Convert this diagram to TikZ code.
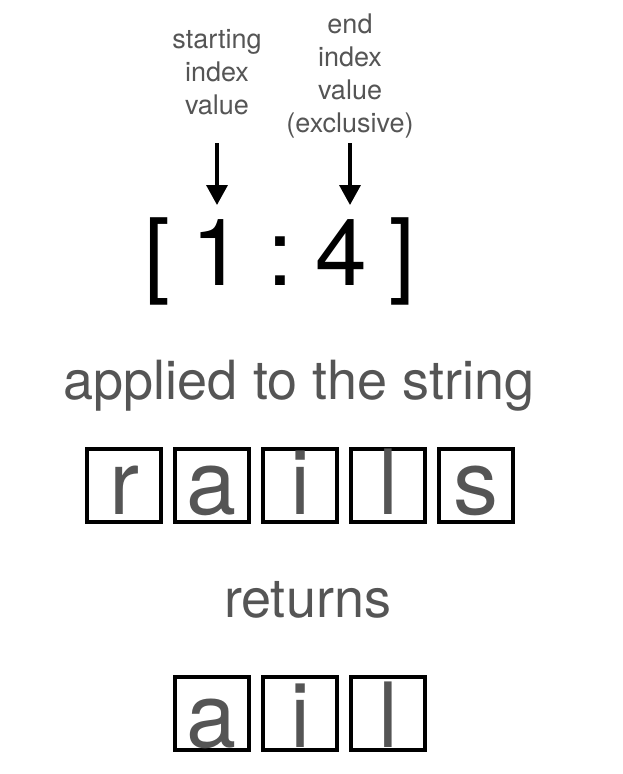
\documentclass[tikz,border=0pt]{standalone}
\usepackage{fontspec}
\setmainfont{TeX Gyre Heros}
\usepackage{xcolor}
\usepackage{tikz}
\usetikzlibrary{arrows.meta}
\definecolor{txtgray}{HTML}{555555}

\begin{document}
\begin{tikzpicture}[x=1pt,y=-1pt,>={Triangle[width=21pt,length=20pt]},node distance=88pt,
    note/.style={text=txtgray,align=center,inner sep=0pt,anchor=base,font=\fontsize{27}{33}\selectfont},
    slice/.style={inner sep=0pt,anchor=base,font=\fontsize{93}{93}\selectfont},
    phrase/.style={text=txtgray,inner sep=0pt,anchor=base,font=\fontsize{54}{54}\selectfont},
    charbox/.style={draw,line width=4pt,minimum width=74pt,minimum height=73pt,inner sep=0pt,text=txtgray,font=\fontsize{90}{90}\selectfont,text height=62pt,text depth=5pt},
    resultbox/.style={charbox,text height=68pt,text depth=1pt}]
                \useasboundingbox (0,0) rectangle (623,774);
                \node[note] (startlbl) at (217,114) {starting\\index\\value};
                \node[note] (endlbl) at (350,132) {end\\index\\value\\(exclusive)};
                \coordinate (tailrow) at (0,143);
                \coordinate (tiprow) at (0,205);
                \node[slice] (lbrack) at (157,285) {[};
                \node[slice] (start) at (217,285) {1};
                \node[slice] (colon) at (280,285) {:};
                \node[slice] (stop) at (341,285) {4};
                \node[slice] (rbrack) at (402,285) {]};
                \draw[->,line width=3.5pt] (startlbl |- tailrow) -- (startlbl |- tiprow);
                \draw[->,line width=3.5pt] (endlbl |- tailrow) -- (endlbl |- tiprow);
                \node[phrase] (applied) at (299,399) {applied to the string};
                \node[charbox] (r) at (124,485.5) {r};
                \node[charbox] (a) [right of=r] {a};
                \node[charbox] (i) [right of=a] {i};
                \node[charbox] (l) [right of=i] {l};
                \node[charbox] (s) [right of=l] {s};
                \node[phrase] (returns) at (307.5,617) {returns};
                \node[resultbox] (ra) at (212,713.5) {a};
                \node[resultbox] (ri) [right of=ra] {i};
                \node[resultbox] (rl) [right of=ri] {l};
            \end{tikzpicture}
\end{document}
